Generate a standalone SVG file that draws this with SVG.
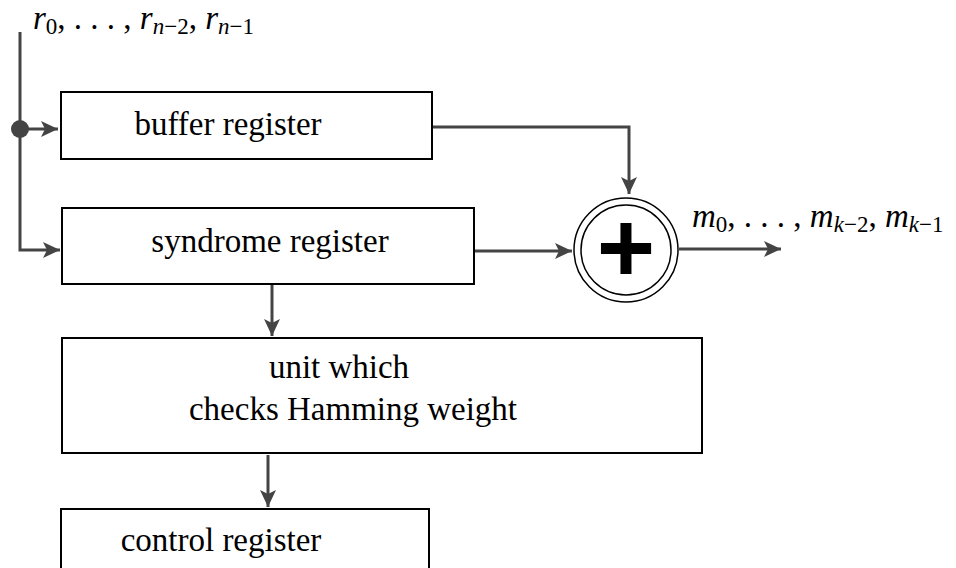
<svg xmlns="http://www.w3.org/2000/svg" width="956" height="568" viewBox="0 0 956 568">
<style>
.box{fill:#fff;stroke:#000;stroke-width:2}
.lbl{font-family:"Liberation Serif","DejaVu Serif",serif;font-size:33px;fill:#000}
.math{font-family:"Liberation Serif","DejaVu Serif",serif;font-size:33px;fill:#000}
.it{font-style:italic}
.sub{font-size:23px}
.conn{fill:none;stroke:#444;stroke-width:3}
</style>
<defs>
<marker id="ah" markerWidth="20" markerHeight="20" refX="17" refY="8" orient="auto" markerUnits="userSpaceOnUse" viewBox="0 0 20 16">
<path d="M0,0 L17,8 L0,16 L4,8 Z" fill="#444"/>
</marker>
</defs>
<g id="connectors">
<path class="conn" d="M20,32 V250 H60" marker-end="url(#ah)"/>
<path class="conn" d="M20,129 H58" marker-end="url(#ah)"/>
<circle cx="20" cy="129" r="9" fill="#444"/>
<path class="conn" d="M432,127 H629 V194" marker-end="url(#ah)"/>
<path class="conn" d="M474,251 H572" marker-end="url(#ah)"/>
<path class="conn" d="M272,285 V336" marker-end="url(#ah)"/>
<path class="conn" d="M268,455 V507" marker-end="url(#ah)"/>
<path class="conn" d="M679,249 H781" marker-end="url(#ah)"/>
</g>
<g id="buffer">
<rect class="box" x="61" y="92" width="371" height="67"/>
<text class="lbl" x="228" y="135" text-anchor="middle">buffer register</text>
</g>
<g id="syndrome">
<rect class="box" x="62" y="208" width="412" height="76"/>
<text class="lbl" x="270" y="252" text-anchor="middle">syndrome register</text>
</g>
<g id="unit">
<rect class="box" x="62" y="338" width="640" height="115"/>
<text class="lbl" x="339" y="378" text-anchor="middle">unit which</text>
<text class="lbl" x="353" y="420" text-anchor="middle">checks Hamming weight</text>
</g>
<g id="control">
<rect class="box" x="61" y="509" width="368" height="70"/>
<text class="lbl" x="221" y="551" text-anchor="middle">control register</text>
</g>
<g id="adder">
<circle cx="626" cy="250" r="52" fill="#fff" stroke="#000" stroke-width="1.5"/>
<circle cx="626" cy="250" r="45" fill="none" stroke="#000" stroke-width="1.5"/>
<text x="626" y="282" text-anchor="middle" font-family="Liberation Sans, Arial, sans-serif" font-weight="bold" font-size="100">+</text>
</g>
<g id="input-label">
<text class="math" x="33" y="29"><tspan class="it">r</tspan><tspan class="sub" dy="5">0</tspan><tspan dy="-5">, . . . , </tspan><tspan class="it">r</tspan><tspan class="sub it" dy="5">n</tspan><tspan class="sub">−2</tspan><tspan dy="-5">, </tspan><tspan class="it">r</tspan><tspan class="sub it" dy="5">n</tspan><tspan class="sub">−1</tspan></text>
</g>
<g id="output-label">
<text class="math" x="692" y="227"><tspan class="it">m</tspan><tspan class="sub" dy="5">0</tspan><tspan dy="-5">, . . . , </tspan><tspan class="it">m</tspan><tspan class="sub it" dy="5">k</tspan><tspan class="sub">−2</tspan><tspan dy="-5">, </tspan><tspan class="it">m</tspan><tspan class="sub it" dy="5">k</tspan><tspan class="sub">−1</tspan></text>
</g>
</svg>
